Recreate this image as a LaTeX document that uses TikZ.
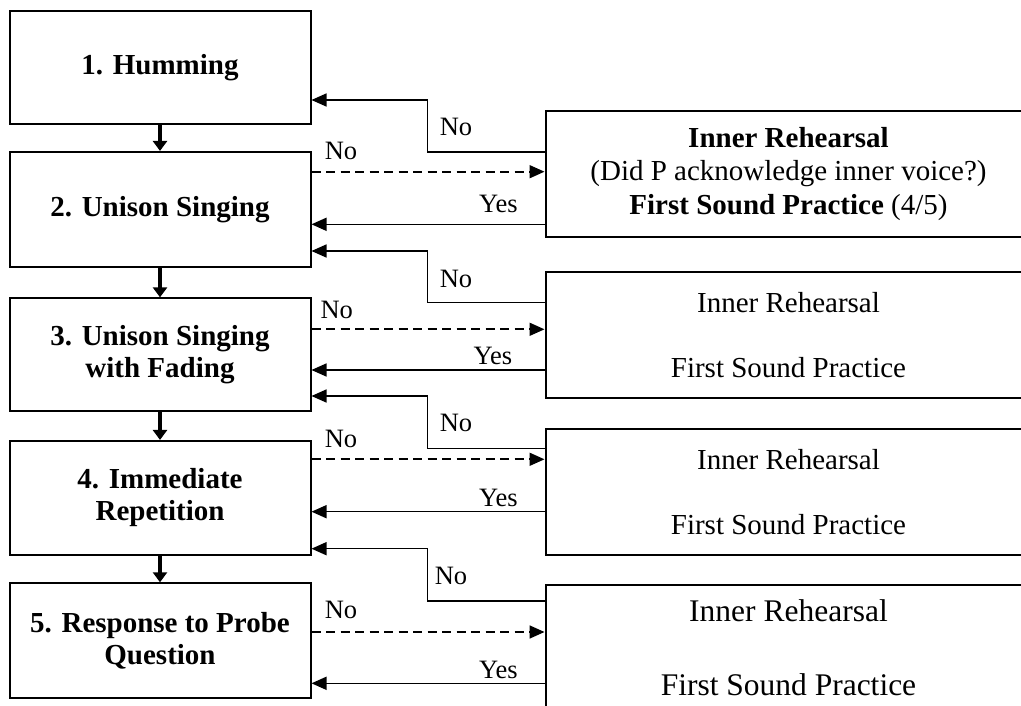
\documentclass[tikz,border=0pt]{standalone}
\usepackage{fontspec}
\setmainfont{Liberation Serif}
\usetikzlibrary{arrows.meta}
\begin{document}
\begin{tikzpicture}[x=1pt,y=-1pt,
  stage/.style={draw,line width=2pt,minimum width=301pt,inner sep=0pt,align=center,
    font=\fontsize{29}{32}\selectfont\bfseries},
  check/.style={draw,line width=2pt,minimum width=486pt,minimum height=126pt,inner sep=0pt,align=center,
    font=\fontsize{29}{33}\selectfont},
  link/.style={line width=1.5pt,-{Triangle[length=15pt,width=13pt]}},
  retry/.style={link,line width=1.7pt,dash pattern=on 9pt off 5.5pt},
  down/.style={line width=3.2pt,-{Triangle[length=10pt,width=14pt]}},
  tag/.style={font=\fontsize{26.5}{29}\selectfont,inner sep=0pt}]
\useasboundingbox (0,0) rectangle (1021,706);
\clip (0,0) rectangle (1021,706);

% training stages
\node[stage,minimum height=113pt] (s1) at (160,68) {1. Humming};
\node[stage,minimum height=114.7pt] (s2) at (160,209.3) {2. Unison Singing};
\node[stage,minimum height=112.7pt] (s3) at (160,354.7) {3. Unison Singing\\with Fading};
\node[stage,minimum height=113.7pt] (s4) at (160,497.8) {4. Immediate\\Repetition};
\node[stage,minimum height=114.4pt] (s5) at (160,640.5) {5. Response to Probe\\Question};

% checks
\node[check,font=\fontsize{29}{33.5}\selectfont] (c1) at (788.5,173.7)
  {\textbf{Inner Rehearsal}\\(Did P acknowledge inner voice?)\\\textbf{First Sound Practice} (4/5)};
\node[check] (c2) at (788.5,334.8) {Inner Rehearsal\\[32pt]First Sound Practice};
\node[check] (c3) at (788.5,491.8) {Inner Rehearsal\\[32pt]First Sound Practice};
\node[check,font=\fontsize{31.5}{36}\selectfont] (c4) at (788.5,647.7)
  {Inner Rehearsal\\[38pt]First Sound Practice};

% stage sequence
\draw[down] (s1) -- (s2);
\draw[down] (s2) -- (s3);
\draw[down] (s3) -- (s4);
\draw[down] (s4) -- (s5);

% row 1
\draw[link] (c1.west |- 0,152) -| (427.7,100) -- (s1.east |- 0,100);
\draw[retry] (s2.east |- 0,171.7) -- (c1.west |- 0,171.7);
\draw[link] (c1.west |- 0,224.3) -- (s2.east |- 0,224.3);
% row 2
\draw[link] (c2.west |- 0,302.7) -| (427.7,251) -- (s2.east |- 0,251);
\draw[retry] (s3.east |- 0,329.3) -- (c2.west |- 0,329.3);
\draw[link] (c2.west |- 0,370) -- (s3.east |- 0,370);
% row 3
\draw[link] (c3.west |- 0,448.3) -| (427.7,396) -- (s3.east |- 0,396);
\draw[retry] (s4.east |- 0,459.3) -- (c3.west |- 0,459.3);
\draw[link] (c3.west |- 0,511.7) -- (s4.east |- 0,511.7);
% row 4
\draw[link] (c4.west |- 0,601) -| (427.7,548.7) -- (s4.east |- 0,548.7);
\draw[retry] (s5.east |- 0,632) -- (c4.west |- 0,632);
\draw[link] (c4.west |- 0,683.3) -- (s5.east |- 0,683.3);

% labels
\node[tag] (b1) at (456,127) {No};
\node[tag] (d1) at (341,150.5) {No};
\node[tag] (y1) at (498.5,204) {Yes};
\node[tag] (b2) at (456,278.5) {No};
\node[tag] (d2) at (336.7,309.5) {No};
\node[tag] (y2) at (493,356) {Yes};
\node[tag] (b3) at (456,423) {No};
\node[tag] (d3) at (341,438.5) {No};
\node[tag] (y3) at (498.5,498) {Yes};
\node[tag] (b4) at (451,575.5) {No};
\node[tag] (d4) at (341,610) {No};
\node[tag] (y4) at (498.5,670) {Yes};
\end{tikzpicture}
\end{document}
